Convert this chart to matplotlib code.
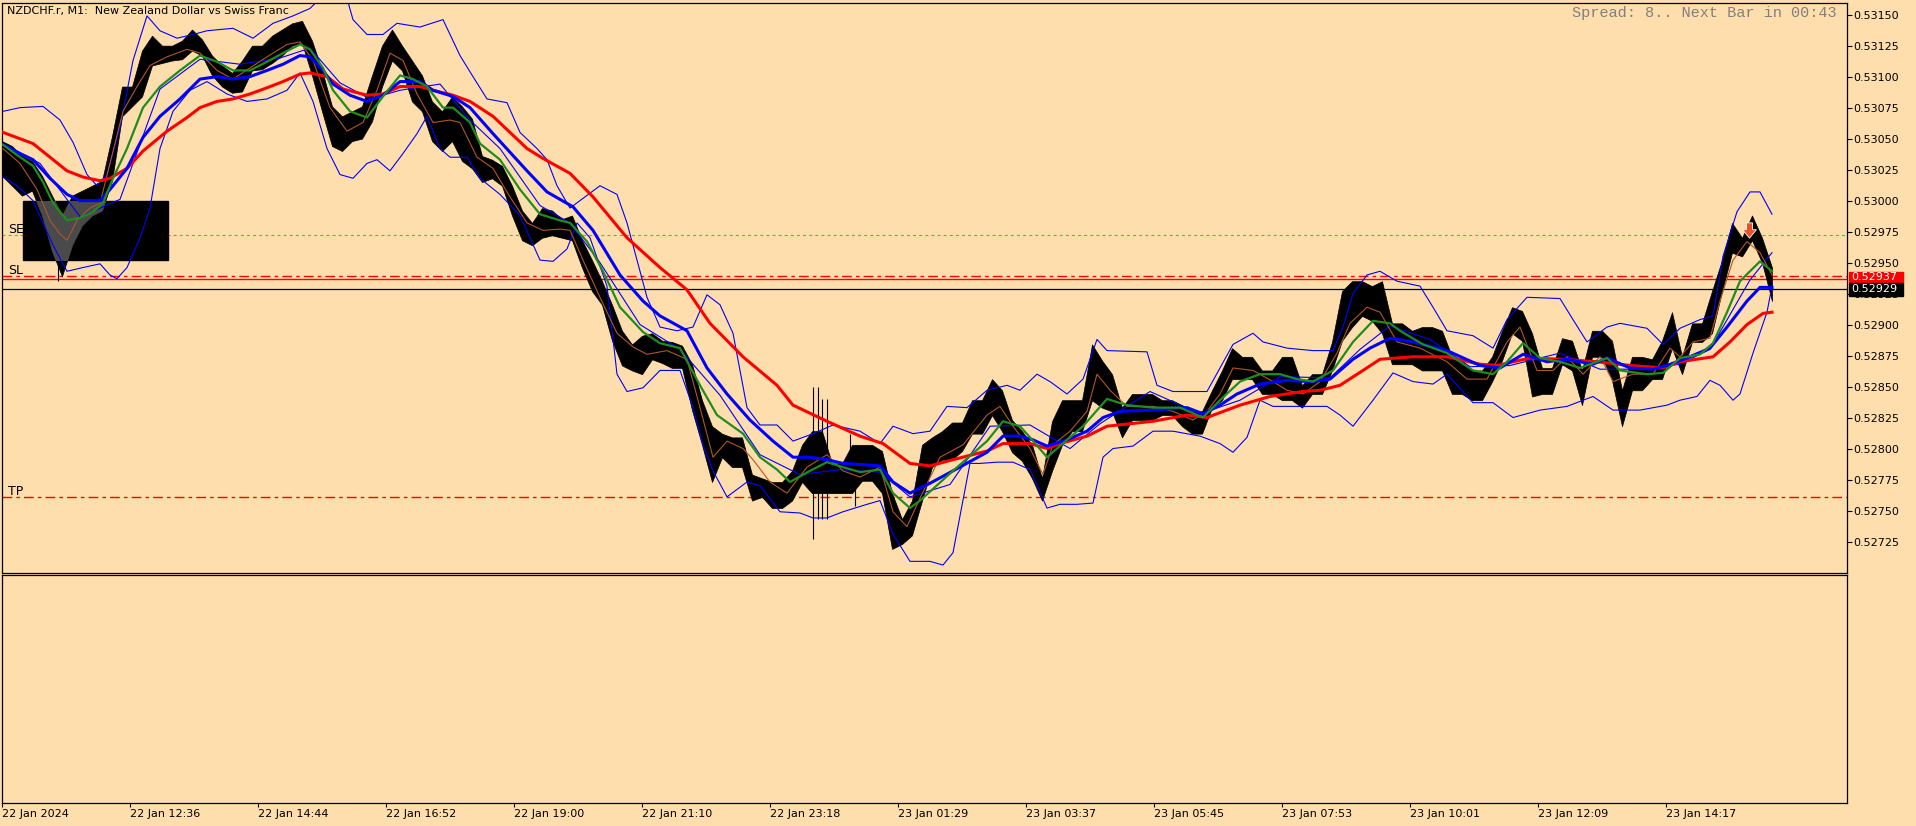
import numpy as np
import matplotlib.pyplot as plt
from matplotlib.patches import Rectangle
from matplotlib.path import Path

plt.rcParams['font.family'] = 'DejaVu Sans'
plt.rcParams['lines.scale_dashes'] = False

# prices are kept in points (1e-5), bar positions in chart pixels (1 px per M1 bar)
P = 1e-5

# price band, one sample every 10 bars: highs and lows
bar_x = np.arange(2, 1773, 10)
bar_hi = [53048, 53044, 53036, 53032, 53020, 53004, 52988, 53004, 53008, 53012,
          53016, 53052, 53092, 53092, 53121, 53133, 53125, 53125, 53129, 53138,
          53130, 53117, 53109, 53103, 53113, 53125, 53125, 53133, 53138, 53143,
          53145, 53129, 53105, 53076, 53068, 53072, 53076, 53101, 53125, 53138,
          53125, 53113, 53101, 53080, 53072, 53084, 53076, 53066, 53036, 53033,
          53028, 53012, 52992, 52982, 52994, 52992, 52985, 52988, 52968, 52952,
          52935, 52916, 52895, 52884, 52891, 52893, 52887, 52886, 52883, 52868,
          52839, 52818, 52812, 52809, 52809, 52779, 52776, 52773, 52773, 52782,
          52803, 52814, 52814, 52788, 52788, 52803, 52803, 52803, 52798, 52764,
          52743, 52758, 52803, 52809, 52814, 52821, 52821, 52839, 52839, 52856,
          52847, 52823, 52814, 52803, 52776, 52822, 52839, 52839, 52839, 52884,
          52871, 52860, 52833, 52844, 52844, 52844, 52839, 52839, 52835, 52830,
          52830, 52847, 52863, 52881, 52874, 52874, 52863, 52863, 52874, 52874,
          52851, 52860, 52860, 52886, 52927, 52935, 52935, 52931, 52935, 52901,
          52901, 52895, 52898, 52898, 52895, 52874, 52871, 52863, 52863, 52874,
          52895, 52914, 52911, 52893, 52865, 52865, 52889, 52887, 52863, 52895,
          52895, 52887, 52847, 52874, 52874, 52872, 52887, 52910, 52874, 52901,
          52901, 52927, 52952, 52982, 52970, 52988, 52970, 52946]
bar_lo = [53020, 53012, 53004, 53008, 52988, 52959, 52939, 52964, 52980, 52988,
          52992, 53016, 53068, 53076, 53084, 53109, 53111, 53113, 53114, 53121,
          53117, 53101, 53092, 53087, 53088, 53105, 53106, 53111, 53117, 53125,
          53127, 53101, 53072, 53044, 53040, 53048, 53050, 53064, 53092, 53113,
          53105, 53080, 53072, 53048, 53040, 53048, 53032, 53026, 53015, 53018,
          53012, 52988, 52968, 52964, 52970, 52972, 52970, 52968, 52946, 52927,
          52916, 52887, 52867, 52863, 52860, 52872, 52869, 52865, 52865, 52831,
          52803, 52773, 52793, 52785, 52785, 52758, 52761, 52752, 52752, 52758,
          52773, 52764, 52764, 52764, 52764, 52764, 52774, 52774, 52764, 52719,
          52723, 52730, 52758, 52785, 52791, 52791, 52798, 52812, 52812, 52827,
          52814, 52797, 52790, 52776, 52758, 52782, 52803, 52814, 52814, 52839,
          52833, 52830, 52809, 52823, 52823, 52823, 52827, 52827, 52818, 52812,
          52812, 52833, 52839, 52856, 52856, 52856, 52844, 52844, 52839, 52839,
          52833, 52844, 52844, 52863, 52887, 52898, 52907, 52903, 52893, 52868,
          52868, 52868, 52863, 52863, 52863, 52844, 52844, 52839, 52839, 52854,
          52871, 52893, 52887, 52842, 52844, 52844, 52868, 52863, 52835, 52874,
          52874, 52855, 52818, 52847, 52847, 52856, 52856, 52881, 52860, 52886,
          52886, 52893, 52927, 52958, 52955, 52968, 52950, 52919]

# single long wicks
spike_x = [58, 813, 818, 822, 827, 850, 855]
spike_hi = [52990, 52850, 52850, 52840, 52840, 52812, 52800]
spike_lo = [52935, 52727, 52743, 52743, 52743, 52764, 52754]

# moving averages
red_x = [3, 33, 50, 67, 83, 100, 110, 127, 143, 167, 187, 200, 217, 233, 250, 267, 283, 300, 310, 327,
         343, 367, 383, 400, 420, 433, 453, 470, 493, 527, 543, 570, 593, 627, 660, 687, 710, 743, 777, 793,
         827, 860, 883, 910, 930, 953, 987, 1003, 1030, 1047, 1060, 1087, 1107, 1153, 1187, 1207, 1240, 1270,
         1303, 1320, 1340, 1363, 1380, 1413, 1447, 1480, 1497, 1530, 1563, 1597, 1630, 1663, 1680, 1713,
         1730, 1747, 1763, 1772]
red_p = [53055, 53046, 53035, 53024, 53019, 53016, 53018, 53026, 53040, 53056, 53067, 53075, 53080, 53082,
         53086, 53091, 53096, 53102, 53103, 53100, 53090, 53085, 53086, 53092, 53092, 53089, 53085, 53080,
         53068, 53042, 53034, 53022, 53003, 52970, 52946, 52928, 52901, 52874, 52851, 52835, 52822, 52810,
         52804, 52788, 52786, 52791, 52798, 52804, 52804, 52800, 52804, 52810, 52818, 52822, 52827, 52825,
         52835, 52842, 52846, 52847, 52851, 52863, 52872, 52874, 52874, 52868, 52867, 52873, 52872, 52870,
         52867, 52865, 52870, 52874, 52886, 52900, 52909, 52910]

blue_x = [3, 20, 33, 50, 67, 80, 100, 110, 127, 143, 160, 180, 200, 217, 233, 250, 267, 283, 300, 310,
          323, 333, 350, 367, 383, 400, 420, 433, 453, 470, 493, 527, 547, 573, 593, 620, 643, 660, 687, 707,
          727, 750, 773, 793, 810, 827, 843, 880, 893, 910, 930, 953, 987, 1003, 1020, 1033, 1047, 1067, 1087,
          1103, 1120, 1153, 1187, 1203, 1220, 1237, 1260, 1287, 1310, 1330, 1353, 1370, 1390, 1413, 1447,
          1480, 1500, 1523, 1547, 1567, 1593, 1607, 1630, 1653, 1667, 1687, 1710, 1727, 1747, 1760, 1772]
blue_p = [53045, 53038, 53033, 53018, 53005, 53000, 53000, 53009, 53026, 53051, 53068, 53082, 53098, 53100,
          53098, 53100, 53105, 53110, 53117, 53116, 53105, 53094, 53085, 53080, 53085, 53096, 53096, 53089,
          53084, 53075, 53054, 53024, 53007, 52995, 52976, 52940, 52919, 52907, 52895, 52865, 52844, 52823,
          52806, 52793, 52793, 52791, 52788, 52786, 52773, 52764, 52772, 52782, 52797, 52810, 52810, 52807,
          52802, 52807, 52814, 52825, 52830, 52831, 52833, 52828, 52835, 52844, 52852, 52855, 52854, 52856,
          52872, 52881, 52889, 52886, 52879, 52867, 52865, 52876, 52870, 52872, 52868, 52873, 52865, 52864,
          52867, 52873, 52881, 52898, 52919, 52930, 52930]

green_x = [3, 20, 33, 43, 53, 67, 80, 93, 103, 113, 127, 143, 160, 180, 200, 217, 233, 250, 267, 283,
           300, 310, 323, 333, 350, 367, 383, 400, 413, 427, 443, 453, 470, 480, 500, 520, 540, 560, 570, 587,
           603, 620, 643, 660, 680, 700, 717, 743, 760, 777, 790, 810, 827, 843, 860, 880, 893, 910, 920, 953,
           987, 1003, 1020, 1030, 1047, 1067, 1083, 1107, 1127, 1153, 1180, 1203, 1220, 1240, 1260, 1280,
           1297, 1313, 1333, 1353, 1373, 1390, 1400, 1423, 1447, 1473, 1493, 1507, 1523, 1540, 1560, 1580,
           1607, 1620, 1647, 1663, 1680, 1700, 1713, 1727, 1740, 1760, 1772]
green_p = [53045, 53035, 53028, 53015, 52998, 52984, 52986, 52991, 52998, 53018, 53042, 53075, 53092, 53105,
           53117, 53112, 53105, 53105, 53112, 53119, 53126, 53122, 53107, 53089, 53072, 53067, 53084, 53101,
           53098, 53092, 53075, 53075, 53063, 53046, 53033, 53009, 52989, 52984, 52982, 52967, 52943, 52914,
           52894, 52885, 52881, 52851, 52827, 52812, 52793, 52783, 52773, 52782, 52789, 52785, 52781, 52783,
           52764, 52752, 52758, 52782, 52806, 52822, 52818, 52809, 52793, 52807, 52818, 52840, 52835, 52833,
           52833, 52825, 52839, 52854, 52860, 52860, 52856, 52854, 52863, 52886, 52903, 52901, 52895, 52884,
           52877, 52863, 52860, 52870, 52885, 52873, 52870, 52865, 52873, 52863, 52860, 52861, 52873, 52876,
           52885, 52910, 52935, 52951, 52943]

brown_x = [3, 20, 37, 50, 60, 67, 77, 90, 100, 110, 123, 137, 150, 167, 187, 200, 217, 233, 250, 267,
           287, 300, 313, 330, 347, 363, 377, 390, 403, 417, 433, 450, 460, 477, 493, 510, 527, 543, 560, 570,
           583, 600, 617, 633, 647, 667, 687, 700, 713, 727, 743, 753, 770, 787, 807, 827, 843, 860, 880, 893,
           907, 920, 940, 963, 987, 1000, 1013, 1030, 1043, 1053, 1070, 1087, 1097, 1110, 1127, 1153, 1173,
           1193, 1207, 1220, 1233, 1253, 1273, 1287, 1303, 1320, 1337, 1350, 1367, 1380, 1397, 1420, 1447,
           1467, 1487, 1507, 1520, 1537, 1553, 1567, 1583, 1600, 1613, 1633, 1653, 1670, 1680, 1693, 1710,
           1720, 1733, 1747, 1760, 1772]
brown_p = [53042, 53030, 53009, 52984, 52973, 52968, 52984, 52994, 52998, 53030, 53072, 53092, 53109, 53116,
           53122, 53119, 53105, 53098, 53107, 53116, 53126, 53128, 53113, 53075, 53056, 53063, 53089, 53119,
           53113, 53086, 53063, 53065, 53063, 53035, 53026, 53003, 52982, 52976, 52977, 52976, 52952, 52922,
           52893, 52882, 52876, 52879, 52872, 52833, 52793, 52806, 52800, 52791, 52773, 52764, 52785, 52795,
           52782, 52777, 52785, 52749, 52737, 52760, 52793, 52803, 52827, 52834, 52818, 52800, 52779, 52803,
           52814, 52830, 52860, 52847, 52834, 52834, 52830, 52823, 52830, 52844, 52865, 52863, 52854, 52847,
           52844, 52854, 52877, 52901, 52914, 52910, 52886, 52881, 52870, 52856, 52856, 52886, 52898, 52863,
           52863, 52874, 52860, 52874, 52854, 52860, 52860, 52881, 52874, 52886, 52889, 52919, 52952, 52967,
           52958, 52940]

# bollinger bands
upper_x = [3, 20, 43, 60, 73, 87, 97, 107, 120, 133, 147, 160, 177, 193, 207, 233, 253, 273, 293, 310,
           320, 347, 353, 367, 383, 397, 420, 443, 460, 473, 487, 507, 520, 537, 547, 557, 570, 580, 600, 617,
           627, 637, 647, 660, 677, 693, 707, 720, 733, 747, 760, 777, 793, 813, 833, 860, 880, 893, 913, 930,
           947, 967, 987, 1007, 1020, 1037, 1050, 1067, 1083, 1097, 1107, 1147, 1157, 1173, 1207, 1220, 1233,
           1253, 1263, 1287, 1313, 1333, 1343, 1353, 1367, 1380, 1397, 1420, 1433, 1447, 1473, 1493, 1507,
           1527, 1560, 1573, 1587, 1607, 1620, 1647, 1663, 1680, 1700, 1713, 1723, 1737, 1750, 1760, 1772]
upper_p = [53072, 53075, 53076, 53065, 53047, 53021, 53012, 53021, 53059, 53113, 53149, 53137, 53131, 53134,
           53137, 53139, 53131, 53143, 53149, 53155, 53163, 53163, 53146, 53134, 53134, 53143, 53140, 53146,
           53117, 53100, 53082, 53079, 53055, 53042, 53033, 53012, 52994, 53000, 53012, 53005, 52982, 52952,
           52922, 52898, 52895, 52898, 52924, 52916, 52893, 52833, 52819, 52819, 52806, 52812, 52819, 52814,
           52804, 52818, 52812, 52814, 52834, 52833, 52847, 52851, 52847, 52860, 52854, 52844, 52856, 52888,
           52879, 52878, 52851, 52846, 52846, 52865, 52884, 52893, 52886, 52881, 52879, 52879, 52898, 52925,
           52940, 52943, 52935, 52931, 52914, 52895, 52891, 52881, 52904, 52922, 52921, 52904, 52886, 52898,
           52901, 52897, 52884, 52897, 52904, 52907, 52955, 52991, 53007, 53007, 52989]

mid_x = [3, 40, 80, 120, 160, 200, 240, 280, 310, 340, 370, 400, 440, 470, 500, 540, 570, 600, 640, 680,
         720, 760, 800, 840, 880, 910, 950, 990, 1030, 1070, 1100, 1150, 1200, 1240, 1280, 1330, 1360, 1390,
         1430, 1470, 1510, 1560, 1600, 1640, 1680, 1710, 1730, 1750, 1772]
mid_p = [53046, 53030, 52987, 53001, 53090, 53114, 53110, 53115, 53123, 53095, 53082, 53089, 53094, 53065,
         53042, 52996, 52982, 52950, 52900, 52880, 52843, 52795, 52779, 52783, 52781, 52761, 52771, 52818,
         52819, 52800, 52820, 52846, 52828, 52839, 52858, 52857, 52880, 52899, 52888, 52866, 52867, 52877,
         52864, 52864, 52868, 52880, 52908, 52936, 52958]

lower_x = [3, 17, 33, 43, 53, 67, 83, 100, 110, 117, 127, 140, 150, 160, 173, 190, 207, 227, 247, 267,
           287, 300, 313, 327, 340, 353, 367, 377, 390, 403, 417, 427, 440, 450, 467, 480, 500, 520, 540, 553,
           567, 577, 590, 607, 617, 627, 643, 660, 680, 693, 703, 713, 727, 747, 760, 780, 800, 813, 827, 843,
           867, 880, 893, 910, 930, 943, 953, 970, 980, 997, 1013, 1030, 1047, 1060, 1077, 1093, 1103, 1113,
           1133, 1153, 1173, 1200, 1220, 1233, 1247, 1260, 1273, 1300, 1327, 1340, 1353, 1373, 1393, 1413,
           1433, 1447, 1473, 1493, 1513, 1540, 1567, 1593, 1613, 1640, 1667, 1680, 1697, 1710, 1720, 1733,
           1740, 1753, 1767, 1772]
lower_p = [53019, 53012, 53000, 52982, 52964, 52943, 52946, 52949, 52940, 52937, 52946, 52970, 52994, 53042,
           53072, 53089, 53096, 53086, 53080, 53082, 53089, 53103, 53080, 53042, 53021, 53018, 53030, 53033,
           53024, 53038, 53054, 53068, 53042, 53035, 53035, 53018, 53005, 52988, 52952, 52951, 52961, 52982,
           52970, 52931, 52860, 52846, 52849, 52863, 52863, 52833, 52803, 52782, 52761, 52773, 52770, 52749,
           52748, 52744, 52744, 52749, 52755, 52758, 52731, 52709, 52709, 52706, 52716, 52788, 52788, 52789,
           52789, 52783, 52752, 52755, 52755, 52756, 52793, 52800, 52802, 52814, 52814, 52810, 52804, 52797,
           52809, 52839, 52834, 52834, 52834, 52827, 52818, 52839, 52861, 52854, 52852, 52860, 52837, 52837,
           52825, 52831, 52834, 52842, 52831, 52831, 52835, 52839, 52842, 52855, 52851, 52839, 52844, 52877,
           52910, 52931]

# horizontal levels
se_level = 52972
sl_level = 52939
tp_level = 52761
ask_price = 52937
bid_price = 52929

time_labels = ['22 Jan 2024', '22 Jan 12:36', '22 Jan 14:44', '22 Jan 16:52', '22 Jan 19:00',
               '22 Jan 21:10', '22 Jan 23:18', '23 Jan 01:29', '23 Jan 03:37', '23 Jan 05:45',
               '23 Jan 07:53', '23 Jan 10:01', '23 Jan 12:09', '23 Jan 14:17']
price_ticks = np.arange(52725, 53151, 25)

bg = '#FFDEAD'
W, H = 1916, 826
fig = plt.figure(figsize=(W / 100, H / 100), dpi=100, facecolor=bg)
ax = fig.add_axes([2 / W, 1 - 573 / H, 1845 / W, 570.5 / H], facecolor=bg)
sub = fig.add_axes([2 / W, 1 - 803 / H, 1845 / W, 228 / H], facecolor=bg)

def pr(v):
    return np.asarray(v, dtype=float) * P

bx = np.asarray(bar_x)
# price bars
ax.fill_between(bx, pr(bar_lo), pr(bar_hi), color='black', lw=0.5, zorder=3)
ax.vlines(spike_x, pr(spike_lo), pr(spike_hi), color='black', lw=0.8, zorder=3)

# black rectangle object, bars show grey on it
box = Rectangle((23, 52952 * P), 145, 48 * P, color='black', zorder=3.2)
ax.add_patch(box)
grey = ax.fill_between(bx, pr(bar_lo), pr(bar_hi), color='#4a4a4a', lw=0.5, zorder=3.4)
grey.set_clip_path(box)

# bands and averages
ax.plot(upper_x, pr(upper_p), color='#0000FF', lw=0.8, zorder=4)
ax.plot(lower_x, pr(lower_p), color='#0000FF', lw=0.8, zorder=4)
ax.plot(mid_x, pr(mid_p), color='#0000FF', lw=0.8, zorder=4)
ax.plot(brown_x, pr(brown_p), color='#B0552A', lw=0.8, zorder=5)
ax.plot(red_x, pr(red_p), color='#FF0000', lw=2.2, zorder=5)
ax.plot(blue_x, pr(blue_p), color='#0000FF', lw=2.2, zorder=6)
ax.plot(green_x, pr(green_p), color='#1E8C1E', lw=1.6, zorder=6)

# levels
ax.axhline(se_level * P, color='#32CD32', lw=0.8, ls=(0, (2.2, 2.2)), zorder=2)
ax.axhline(sl_level * P, color='#FF0000', lw=1.0, ls=(0, (7, 3, 2.5, 3)), zorder=2)
ax.axhline(tp_level * P, color='#FF0000', lw=1.0, ls=(0, (7, 3, 2.5, 3)), zorder=2)
ax.axhline(ask_price * P, color='#FF0000', lw=1.0, zorder=2)
ax.axhline(bid_price * P, color='black', lw=0.9, zorder=2)
ax.text(8, se_level * P + 1.5 * P, 'SE', fontsize=9, va='baseline', ha='left', zorder=7)
ax.text(8, sl_level * P + 1.5 * P, 'SL', fontsize=9, va='baseline', ha='left', zorder=7)
ax.text(8, tp_level * P + 1.5 * P, 'TP', fontsize=9, va='baseline', ha='left', zorder=7)

# sell arrow
arrow = Path([(-0.4, 1), (0.4, 1), (0.4, 0.1), (0.9, 0.1), (0, -1), (-0.9, 0.1), (-0.4, 0.1), (-0.4, 1)],
             [Path.MOVETO] + [Path.LINETO] * 6 + [Path.CLOSEPOLY])
ax.plot([1749], [52976 * P], marker=arrow, ms=11, mfc='#E8502A', mec='white', mew=0.6, zorder=8)

ax.set_xlim(2, 1847)
ax.set_ylim(52699.6 * P, 53159.8 * P)
ax.set_xticks([])
ax.yaxis.tick_right()
ax.set_yticks(price_ticks * P)
ax.set_yticklabels([f'{v * P:.5f}' for v in price_ticks])
ax.tick_params(axis='y', direction='out', length=3.5, width=0.8, pad=1, labelsize=8)

sub.set_xlim(2, 1847)
sub.set_ylim(0, 1)
sub.set_yticks([])
sub.set_xticks([2 + 128 * k for k in range(len(time_labels))])
sub.set_xticklabels(time_labels, ha='left')
sub.tick_params(axis='x', direction='out', length=3, width=0.8, pad=1.5, labelsize=8)

for a in (ax, sub):
    for s in a.spines.values():
        s.set_linewidth(0.9)

# bid / ask price tags on the scale
fig.add_artist(Rectangle((1849 / W, 1 - 282.7 / H), 54 / W, 11 / H, transform=fig.transFigure,
                         color='#FF0000', zorder=10))
fig.add_artist(Rectangle((1849 / W, 1 - 295.7 / H), 54 / W, 12.4 / H, transform=fig.transFigure,
                         color='black', zorder=11))
fig.text(1851 / W, 1 - 277.5 / H, f'{ask_price * P:.5f}', color='white', fontsize=8, va='center', zorder=12)
fig.text(1851 / W, 1 - 289.5 / H, f'{bid_price * P:.5f}', color='white', fontsize=8, va='center', zorder=12)

fig.text(7 / W, 1 - 11 / H, 'NZDCHF.r, M1:  New Zealand Dollar vs Swiss Franc', fontsize=8, va='center')
fig.text(1837 / W, 1 - 13 / H, 'Spread: 8.. Next Bar in 00:43', fontsize=11, family='Liberation Mono',
         color='#808080', ha='right', va='center')

fig.savefig('out.png', dpi=100, facecolor=bg)
